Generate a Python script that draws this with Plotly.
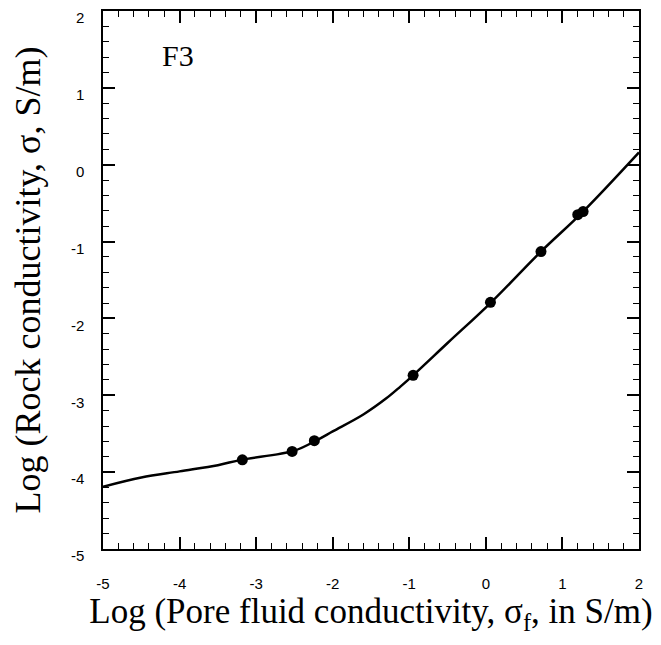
import plotly.graph_objects as go

# Fitted curve (log sigma_f, log sigma)
curve_x = [-5.0, -4.5, -4.0, -3.5, -3.2, -2.5, -2.2, -2.0, -1.6, -1.3, -1.12, -0.95, -0.5, 0.07, 0.72, 1.27, 2.0]
curve_y = [-4.19, -4.07, -3.99, -3.91, -3.84, -3.72, -3.58, -3.47, -3.25, -3.04, -2.89, -2.74, -2.32, -1.79, -1.13, -0.61, 0.16]

# Measured data points
point_x = [-3.18, -2.53, -2.24, -0.95, 0.06, 0.72, 1.20, 1.27]
point_y = [-3.84, -3.73, -3.59, -2.74, -1.79, -1.13, -0.65, -0.61]

x_ticks = [-5, -4, -3, -2, -1, 0, 1, 2]
y_ticks = [-5, -4, -3, -2, -1, 0, 1, 2]

fig = go.Figure()
fig.add_trace(go.Scatter(x=curve_x, y=curve_y, mode="lines",
                         line=dict(color="black", width=2.5, shape="spline", smoothing=1.0),
                         showlegend=False, hoverinfo="skip"))
fig.add_trace(go.Scatter(x=point_x, y=point_y, mode="markers",
                         marker=dict(color="black", size=11),
                         showlegend=False))

axis_common = dict(
    showline=True, linecolor="black", linewidth=1.5, mirror="ticks",
    ticks="inside", ticklen=12, tickwidth=1.5, tickcolor="black",
    minor=dict(ticks="inside", dtick=0.2, ticklen=6, tickwidth=1.2, tickcolor="black", showgrid=False),
    showgrid=False, zeroline=False, automargin=False, ticklabeloverflow="allow",
    tickfont=dict(family="Liberation Sans, Arial", size=15, color="black"),
)

title_font = dict(family="Liberation Serif, Times New Roman", size=35, color="black")

fig.update_xaxes(range=[-5, 2], tickvals=x_ticks, ticktext=[str(v) for v in x_ticks],
                 ticklabelstandoff=20,
                 title=dict(text="Log (Pore fluid conductivity, σ<sub>f</sub>, in S/m)",
                            font=title_font, standoff=8),
                 **axis_common)
fig.update_yaxes(range=[-5, 2], tickvals=y_ticks, ticktext=[str(v) for v in y_ticks],
                 ticklabelstandoff=14, ticklabelshift=7,
                 title=dict(text="Log (Rock conductivity, σ, S/m)",
                            font=dict(family="Liberation Serif, Times New Roman", size=36, color="black"),
                            standoff=24),
                 **axis_common)

fig.add_annotation(x=-4.02, y=1.42, text="F3", showarrow=False,
                   font=dict(family="Liberation Serif, Times New Roman", size=30, color="black"))

fig.update_layout(width=653, height=637, margin=dict(l=95, r=22, t=3, b=96, autoexpand=False),
                  plot_bgcolor="white", paper_bgcolor="white")

fig.write_html("out.html")
